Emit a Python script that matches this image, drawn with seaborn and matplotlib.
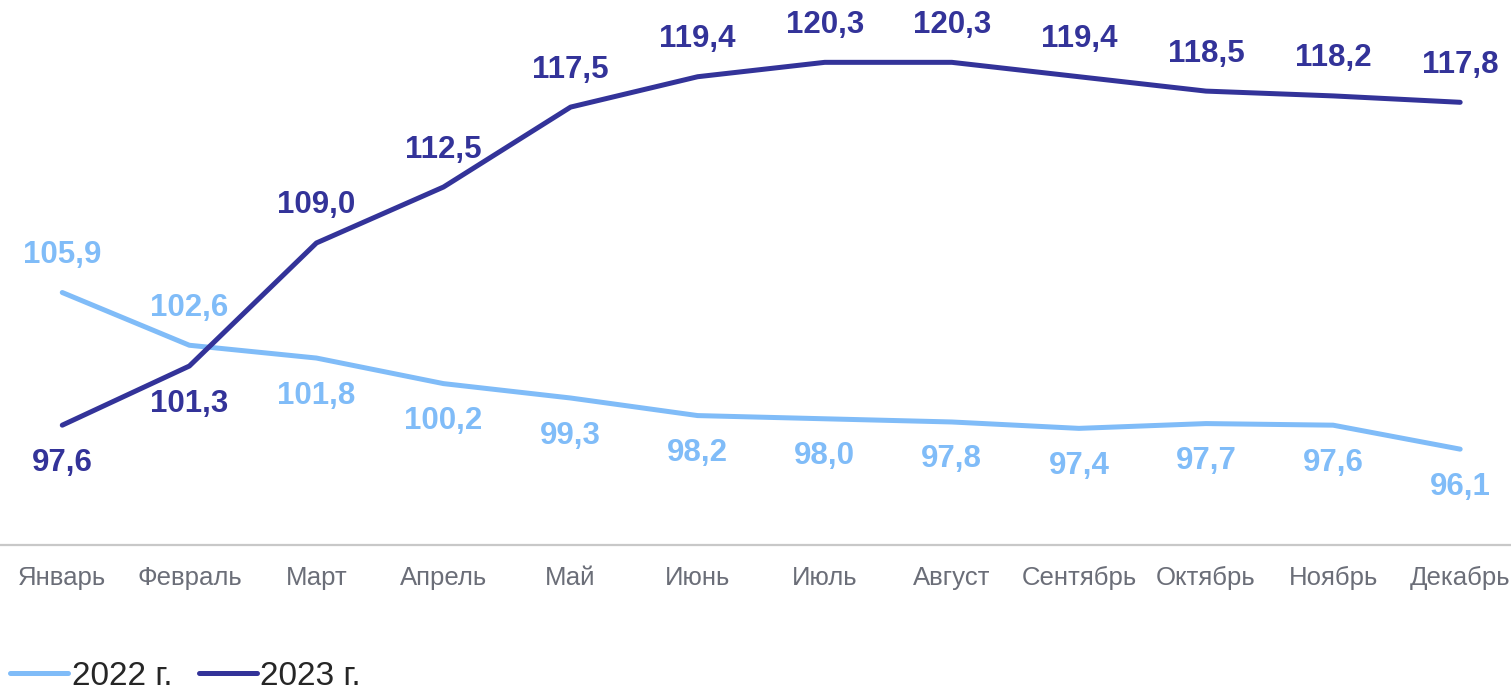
import matplotlib
matplotlib.use('Agg')
import matplotlib.pyplot as plt
import seaborn as sns
import pandas as pd

months = ['Январь', 'Февраль', 'Март', 'Апрель', 'Май', 'Июнь',
          'Июль', 'Август', 'Сентябрь', 'Октябрь', 'Ноябрь', 'Декабрь']
vals_2022 = [105.9, 102.6, 101.8, 100.2, 99.3, 98.2, 98.0, 97.8, 97.4, 97.7, 97.6, 96.1]
vals_2023 = [97.6, 101.3, 109.0, 112.5, 117.5, 119.4, 120.3, 120.3, 119.4, 118.5, 118.2, 117.8]
series = ['2022 г.', '2023 г.']
colors = ['#80bcf8', '#333399']

df = pd.DataFrame({
    'x': list(range(len(months))) * 2,
    'value': vals_2022 + vals_2023,
    'year': [series[0]] * len(months) + [series[1]] * len(months),
})

sns.set_style('white')
plt.rcParams['font.family'] = ['Liberation Sans', 'DejaVu Sans']

fig = plt.figure(figsize=(15.11, 6.97), dpi=100)
ax = fig.add_axes([0, 0.218, 1, 0.782])

sns.lineplot(data=df, x='x', y='value', hue='year', palette=colors,
             linewidth=3.6, ax=ax, legend=False)

# подписи значений: выше у верхней линии, ниже у нижней
for i in range(len(months)):
    a, b = vals_2022[i], vals_2023[i]
    off_a = 27 if a > b else -27
    off_b = -off_a
    ax.annotate(f'{a:.1f}'.replace('.', ','), (i, a), xytext=(0, off_a),
                textcoords='offset points', ha='center', va='center',
                fontsize=22.5, fontweight='bold', color=colors[0])
    ax.annotate(f'{b:.1f}'.replace('.', ','), (i, b), xytext=(0, off_b),
                textcoords='offset points', ha='center', va='center',
                fontsize=22.5, fontweight='bold', color=colors[1])

ax.set_xlim(-0.49, 11.4)
ax.set_ylim(90.1, 124.2)
ax.set_xticks(range(len(months)))
ax.set_xticklabels(months, fontsize=18.5, color='#6b6e78')
ax.set_yticks([])
ax.set_xlabel('')
ax.set_ylabel('')
ax.tick_params(axis='x', length=0, pad=15)
for s in ['top', 'right', 'left']:
    ax.spines[s].set_visible(False)
ax.spines['bottom'].set_color('#c8c8c8')
ax.spines['bottom'].set_linewidth(1.6)

handles = [plt.Line2D([], [], color=c, linewidth=3.6, solid_capstyle='round') for c in colors]
fig.legend(handles, series, loc='center left', bbox_to_anchor=(0.0, 0.03),
           ncol=2, frameon=False, fontsize=24, handlelength=1.75,
           handletextpad=0.1, columnspacing=0.8, borderaxespad=0, borderpad=0.3,
           labelcolor='#262626')

fig.savefig('out.png', dpi=100)
